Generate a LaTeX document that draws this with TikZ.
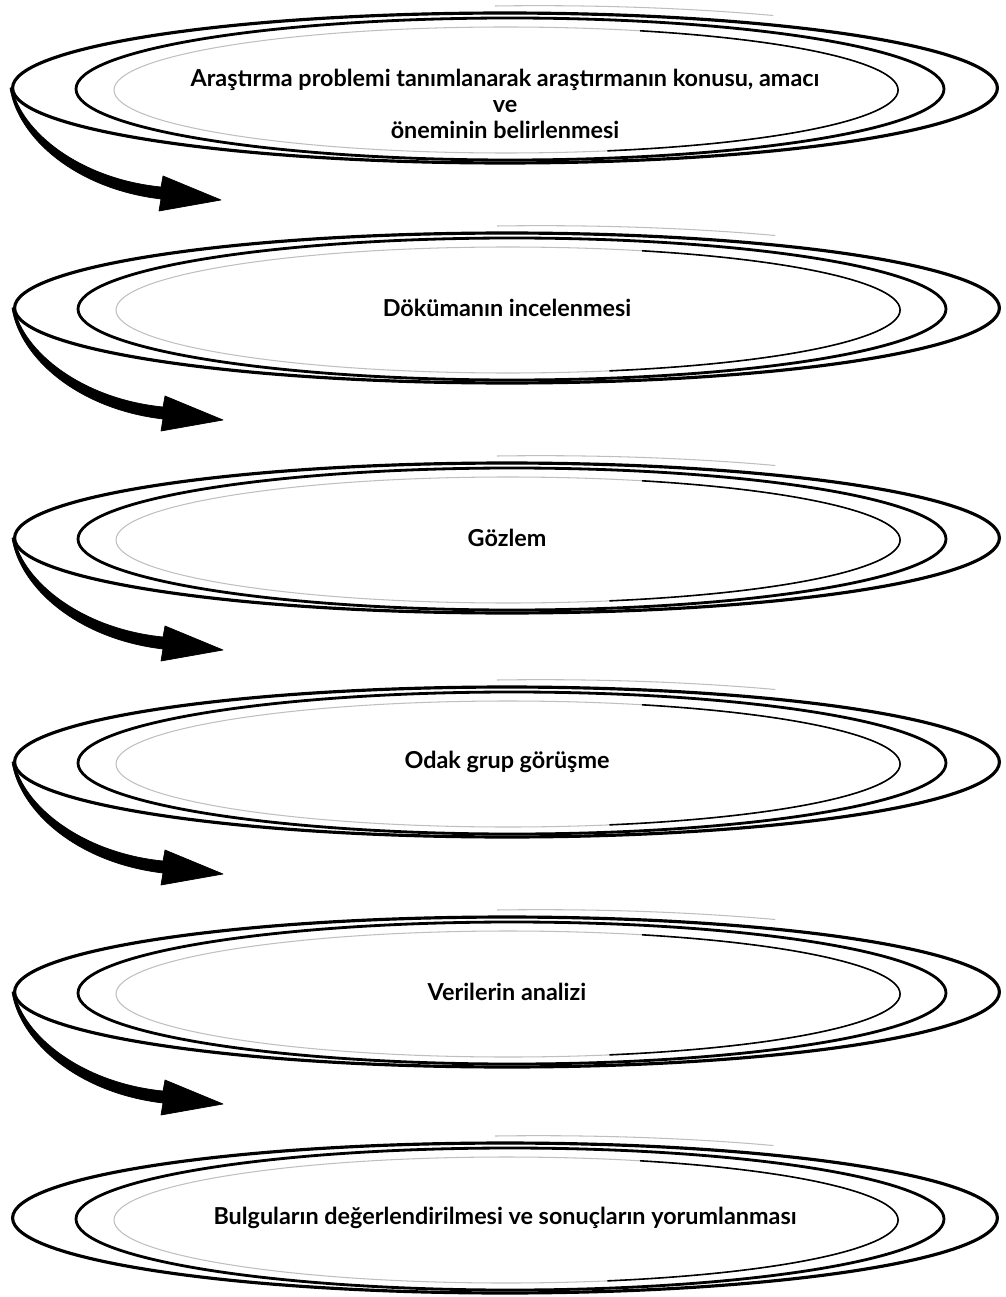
\documentclass[tikz,border=0pt]{standalone}
\usepackage{fontspec}
\setmainfont{Lato}
\usetikzlibrary{calc,shapes.geometric}

\begin{document}
\begin{tikzpicture}[x=0.02cm,y=-0.02cm,
  stage/.style={ellipse,draw,line width=1.8pt,minimum width=19.7cm,minimum height=3.0cm,inner sep=0pt,align=center,font=\bfseries\fontsize{13.3}{15}\selectfont},
  ring/.style={draw,line width=1.6pt},
  ringthin/.style={draw,line width=0.9pt},
  ringfaint/.style={draw=black!25,line width=0.6pt},
  flow/.style={fill=black,draw=black,line width=0.4pt,line join=round}
]
\useasboundingbox (0,0) rectangle (1005,1297);

\node[stage,text height=58pt] (s1) at (505,88) {Araştırma problemi tanımlanarak araştırmanın konusu, amacı\\ve\\öneminin belirlenmesi};
\node[stage] (s2) at (507,308) {Dökümanın incelenmesi};
\node[stage] (s3) at (507,538) {Gözlem};
\node[stage] (s4) at (507,762) {Odak grup görüşme};
\node[stage] (s5) at (507,992) {Verilerin analizi};
\node[stage] (s6) at (505,1218) {Bulguların değerlendirilmesi ve sonuçların yorumlanması};

% sketchy inner rings
\foreach \i in {1,...,6}{
  \draw[ring] ($(s\i.center)+(5,1)$) ellipse [x radius=434,y radius=71];
  \draw[ringfaint] ($(s\i.center)+(1,2)$) ellipse [x radius=392,y radius=63];
  \draw[ringthin] ($(s\i.center)+({1+392*cos(-70)},{2+63*sin(-70)})$) arc [start angle=-70,end angle=75,x radius=392,y radius=63];
  \draw[ringfaint] ($(s\i.center)+(-10,-82)$) arc [start angle=-95,end angle=-62,x radius=500,y radius=84];
}

% arrows down the left side
\foreach \i in {1,...,5}{
  \coordinate (t\i) at ($(s\i.west)+(210,112)$);
  \begin{scope}[shift={(s\i.west)}]
    \filldraw[flow] (1,0) .. controls (11,45) and (70,91) .. (150,99) -- (152,88) -- (t\i)
      -- (148,123) -- (150,111) .. controls (65,101) and (7,50) .. (-1,0) -- cycle;
  \end{scope}
}
\end{tikzpicture}
\end{document}
